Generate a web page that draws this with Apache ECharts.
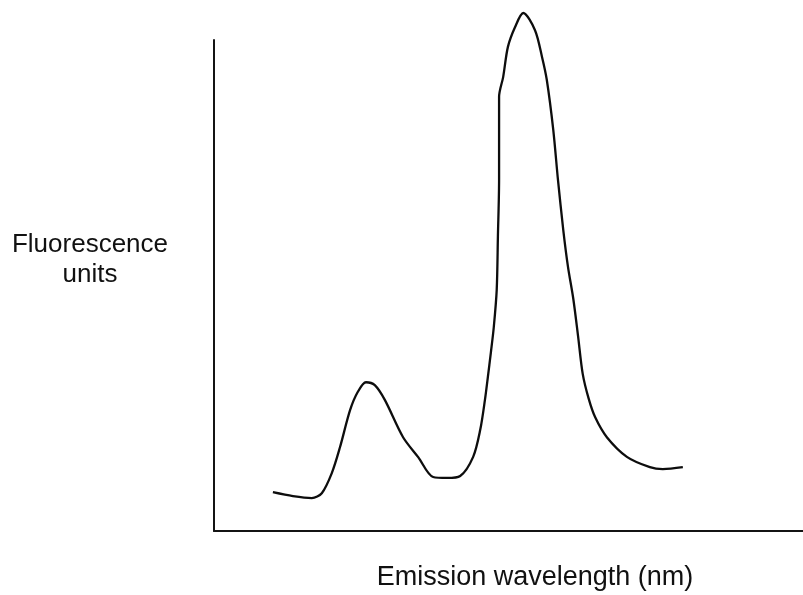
<!DOCTYPE html>
<html>
<head>
<meta charset="utf-8">
<title>Fluorescence emission spectrum</title>
<script src="https://cdn.jsdelivr.net/npm/echarts@6/dist/echarts.min.js"></script>
<style>
  html, body { margin: 0; padding: 0; background: #ffffff; }
  #chart { width: 803px; height: 595px; }
</style>
</head>
<body>
<div id="chart"></div>
<script>
// Emission spectrum, relative units (wavelength 0-100 across the axis, intensity 0-100 up the axis)
const wavelength = [
  10.0, 13.4, 16.6, 18.3, 20.0, 21.4, 23.1, 24.4, 25.8, 27.3,
  29.0, 32.1, 34.7, 37.2, 39.6, 41.8, 44.0, 45.2, 46.0, 46.5,
  47.0, 47.5, 48.0, 48.2, 48.4, 48.4, 49.1, 49.9, 51.1, 52.5,
  54.5, 55.7, 56.5, 57.6, 58.4, 59.3, 60.1, 61.0, 61.8, 62.6,
  63.6, 64.7, 66.7, 70.1, 74.0, 76.2, 79.6
];
const fluorescence = [
  7.9, 7.1, 6.7, 7.7, 11.8, 17.1, 24.6, 28.3, 30.3, 29.7,
  26.7, 19.1, 15.0, 11.0, 10.8, 11.2, 15.1, 20.6, 26.7, 31.4,
  36.3, 41.5, 49.1, 59.9, 71.5, 88.4, 92.5, 98.6, 102.6, 105.5,
  102.0, 96.5, 91.9, 81.7, 71.5, 61.3, 53.8, 47.3, 39.8, 32.0,
  27.0, 23.2, 19.1, 15.1, 13.0, 12.6, 13.0
];
const xTitle = 'Emission wavelength (nm)';
const yTitleLines = ['Fluorescence', 'units'];

const spectrum = wavelength.map((w, i) => [w, fluorescence[i]]);

const chart = echarts.init(document.getElementById('chart'), null, { renderer: 'canvas' });

const axisLine = { show: true, lineStyle: { color: '#141414', width: 2 } };
const fontFamily = '"Liberation Sans", Arial, sans-serif';

chart.setOption({
  backgroundColor: '#ffffff',
  animation: false,
  grid: { left: 214, right: 0, top: 40, bottom: 64 },
  xAxis: {
    type: 'value', min: 0, max: 100,
    axisLine: axisLine,
    axisTick: { show: false },
    axisLabel: { show: false },
    splitLine: { show: false }
  },
  yAxis: {
    type: 'value', min: 0, max: 100,
    axisLine: axisLine,
    axisTick: { show: false },
    axisLabel: { show: false },
    splitLine: { show: false }
  },
  series: [{
    type: 'line',
    data: spectrum,
    smooth: 0.3,
    clip: false,
    showSymbol: false,
    lineStyle: { color: '#0d0d0d', width: 2.3 }
  }],
  graphic: [
    {
      type: 'text', x: 90, y: 260,
      style: {
        text: yTitleLines.join('\n'),
        font: '26px ' + fontFamily,
        fill: '#111111', align: 'center', verticalAlign: 'middle',
        lineHeight: 30
      }
    },
    {
      type: 'text', x: 535, y: 578,
      style: {
        text: xTitle,
        font: '27px ' + fontFamily,
        fill: '#111111', align: 'center', verticalAlign: 'middle'
      }
    }
  ]
});
</script>
</body>
</html>
